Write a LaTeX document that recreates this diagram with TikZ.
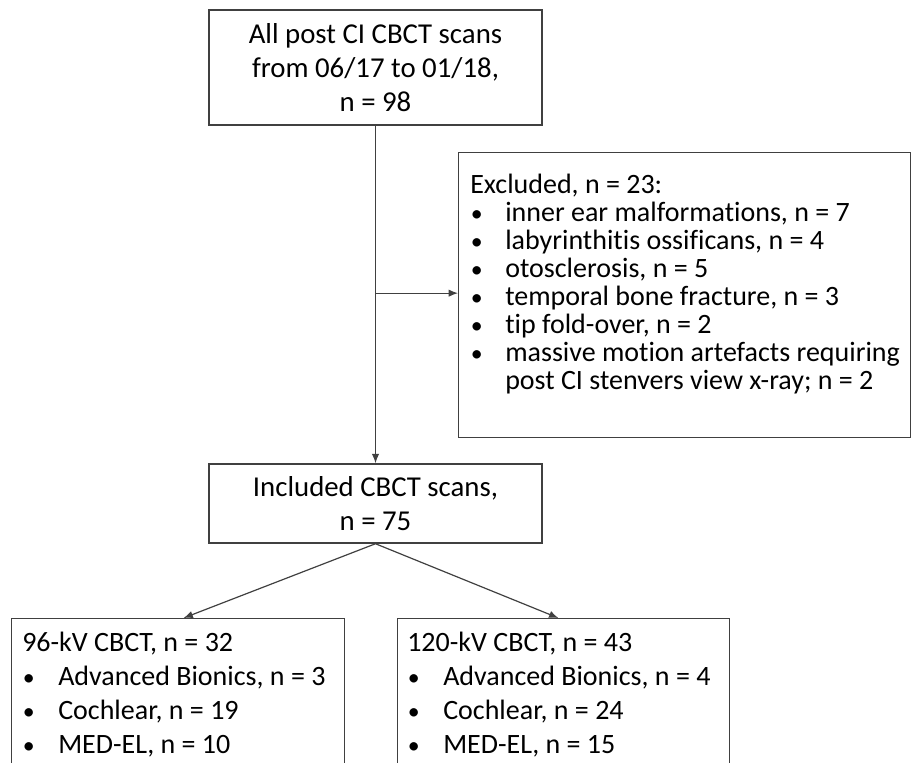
\documentclass[tikz,border=0pt]{standalone}
\usepackage{fontspec}
\setmainfont[Ligatures=NoCommon]{Carlito}
\usepackage{tikz}
\usetikzlibrary{arrows.meta,positioning,calc}

\definecolor{linegray}{HTML}{404040}
\newcommand{\itm}{\makebox[26.25pt][l]{\hspace{0.5pt}\scalebox{0.85}{\textbullet}}}
\newcommand{\bitm}{\makebox[27pt][l]{\hspace{0.5pt}\scalebox{0.85}{\textbullet}}}

\begin{document}
\begin{tikzpicture}[x=0.75pt,y=-0.75pt,
    box/.style={draw=linegray, line width=1.1pt, fill=white, inner sep=0pt},
    flow/.style={-{Latex[length=7pt,width=5.5pt]}, draw=linegray, line width=0.9pt},
    bigtext/.style={font=\fontsize{21.6}{25.5}\selectfont, align=center},
    listtext/.style={font=\fontsize{21}{21}\selectfont, align=left, inner sep=0pt, anchor=north west},
    subtext/.style={font=\fontsize{21}{25.5}\selectfont, align=left, inner sep=0pt, anchor=north west}]
        \useasboundingbox (0,0) rectangle (913,763);
        \clip (0,0) rectangle (913,763);

        % Boxes
        \node[box, bigtext, minimum width=249.75pt, minimum height=86.25pt] (all) at (375.5,67.5)
            {All post CI CBCT scans\\ from 06/17 to 01/18,\\ n = 98};
        \node[box, minimum width=339pt, minimum height=213.75pt, anchor=north west] (excl) at (458,152) {};
        \node[box, bigtext, minimum width=249.75pt, minimum height=59.25pt] (incl) at (375.5,503.5)
            {Included CBCT scans,\\ n = 75};
        \node[box, minimum width=249.75pt, minimum height=127.5pt, anchor=north west] (kv96) at (11,618) {};
        \node[box, minimum width=249pt, minimum height=127.5pt, anchor=north west] (kv120) at (397,618) {};

        % Box texts
        \node[listtext] (excltext) at ($(excl.north west)+(12,22)$) {Excluded, n = 23:\\
            \itm inner ear malformations, n = 7\\
            \itm labyrinthitis ossificans, n = 4\\
            \itm otosclerosis, n = 5\\
            \itm temporal bone fracture, n = 3\\
            \itm tip fold-over, n = 2\\
            \itm massive motion artefacts requiring\\
            \makebox[26.25pt]{}post CI stenvers view x-ray; n = 2};
        \node[subtext] (kv96text) at ($(kv96.north west)+(11,14)$) {96-kV CBCT, n = 32\\
            \bitm Advanced Bionics, n = 3\\
            \bitm Cochlear, n = 19\\
            \bitm MED-EL, n = 10};
        \node[subtext] (kv120text) at ($(kv120.north west)+(10,14)$) {120-kV CBCT, n = 43\\
            \bitm Advanced Bionics, n = 4\\
            \bitm Cochlear, n = 24\\
            \bitm MED-EL, n = 15};

        % Connectors
        \coordinate (branch) at ($(all.south)!0.496!(incl.north)$);
        \draw[flow] (all.south) -- (incl.north);
        \draw[flow] (branch) -- (branch -| excl.west);
        \draw[flow] (incl.south) -- ([xshift=4pt]kv96.north);
        \draw[flow] (incl.south) -- ([xshift=-4pt]kv120.north);
\end{tikzpicture}
\end{document}
